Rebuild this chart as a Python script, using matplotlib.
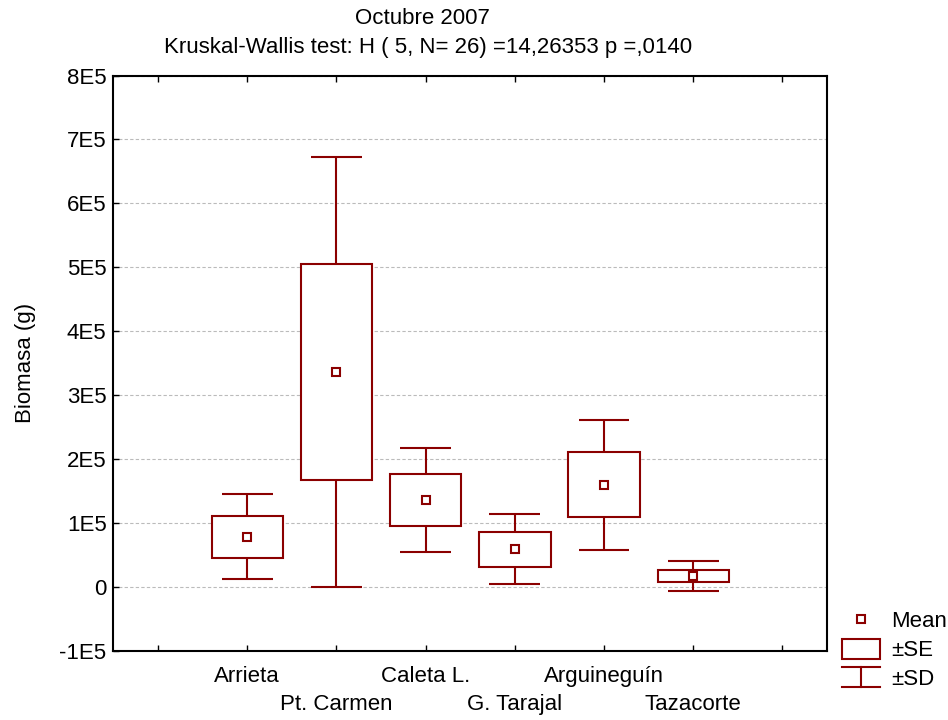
import numpy as np
import matplotlib
matplotlib.use("Agg")
import matplotlib.pyplot as plt
from matplotlib.patches import Rectangle
from matplotlib.lines import Line2D
from matplotlib.legend_handler import HandlerBase

plt.rcParams['font.family'] = ['Liberation Sans', 'DejaVu Sans']

sites = ['Arrieta', 'Pt. Carmen', 'Caleta L.', 'G. Tarajal', 'Arguineguín', 'Tazacorte']
means = [0.785e5, 3.36e5, 1.365e5, 0.59e5, 1.60e5, 0.175e5]
se = [0.33e5, 1.69e5, 0.41e5, 0.273e5, 0.507e5, 0.092e5]
sd = [0.665e5, 3.36e5, 0.81e5, 0.547e5, 1.016e5, 0.235e5]

col = '#8b0000'
lw = 1.5
box_w = 0.8
cap_w = 0.57
fs = 16


class SEHandler(HandlerBase):
    def create_artists(self, legend, orig_handle, xdescent, ydescent,
                       width, height, fontsize, trans):
        r = Rectangle((-xdescent, -ydescent), width, height,
                      facecolor='white', edgecolor=col, lw=lw, transform=trans)
        return [r]


class SDHandler(HandlerBase):
    def create_artists(self, legend, orig_handle, xdescent, ydescent,
                       width, height, fontsize, trans):
        x0, y0 = -xdescent, -ydescent
        xm = x0 + width / 2
        v = Line2D([xm, xm], [y0, y0 + height], color=col, lw=lw, transform=trans)
        t = Line2D([x0, x0 + width], [y0 + height] * 2, color=col, lw=lw, transform=trans)
        b = Line2D([x0, x0 + width], [y0] * 2, color=col, lw=lw, transform=trans)
        return [v, t, b]


fig = plt.figure(figsize=(9.48, 7.2), dpi=100)
ax = fig.add_axes([0.1197, 0.0958, 0.8724 - 0.1197, 0.8951 - 0.0958])

pos = np.arange(1, len(sites) + 1)
for x, m, s, d in zip(pos, means, se, sd):
    ax.vlines(x, m + s, m + d, color=col, lw=lw, zorder=3)
    ax.vlines(x, m - d, m - s, color=col, lw=lw, zorder=3)
    ax.hlines([m - d, m + d], x - cap_w / 2, x + cap_w / 2, color=col, lw=lw, zorder=3)
    ax.add_patch(Rectangle((x - box_w / 2, m - s), box_w, 2 * s,
                           facecolor='white', edgecolor=col, lw=lw, zorder=3))
ax.plot(pos, means, 's', ms=6, mfc='white', mec=col, mew=lw, ls='none', zorder=4)

ax.set_xlim(-0.5, 7.5)
ax.set_ylim(-1e5, 8e5)
yt = np.arange(-1e5, 8.01e5, 1e5)
ax.set_yticks(yt)
ax.set_yticklabels(['0' if v == 0 else '%dE5' % round(v / 1e5) for v in yt])

# site names alternate over two rows: odd sites on major ticks, even on minor
ax.set_xticks([0] + list(pos[::2]) + [7])
ax.set_xticklabels([''] + sites[::2] + [''])
ax.set_xticks(pos[1::2], minor=True)
ax.set_xticklabels(sites[1::2], minor=True)

ax.tick_params(which='both', direction='in', length=4, width=1, labelsize=fs,
               top=True, right=False, colors='black')
ax.tick_params(axis='x', which='major', pad=11)
ax.tick_params(axis='x', which='minor', pad=31)
ax.tick_params(axis='y', pad=5)
ax.yaxis.grid(True, color='#bbbbbb', lw=0.8, ls=(0, (3, 2)))
ax.set_axisbelow(True)
for sp in ax.spines.values():
    sp.set_linewidth(1.5)

ax.set_ylabel('Biomasa (g)', fontsize=fs, labelpad=17)

fig.text(0.446, 0.974, 'Octubre 2007', ha='center', va='center', fontsize=fs)
fig.text(0.452, 0.934, 'Kruskal-Wallis test: H ( 5, N= 26) =14,26353 p =,0140',
         ha='center', va='center', fontsize=fs)

h_mean = Line2D([], [], marker='s', ms=6, mfc='white', mec=col, mew=lw, ls='none')
h_se = Rectangle((0, 0), 1, 1)
h_sd = Line2D([], [])
fig.legend([h_mean, h_se, h_sd], ['Mean', '±SE', '±SD'],
           handler_map={Rectangle: SEHandler(), h_sd: SDHandler()},
           loc='lower left', bbox_to_anchor=(842 / 948, 30 / 720),
           frameon=False, fontsize=fs, handlelength=1.7, handleheight=1.0,
           labelspacing=0.28, handletextpad=0.5, borderpad=0, borderaxespad=0)

fig.savefig('out.png', dpi=100)
